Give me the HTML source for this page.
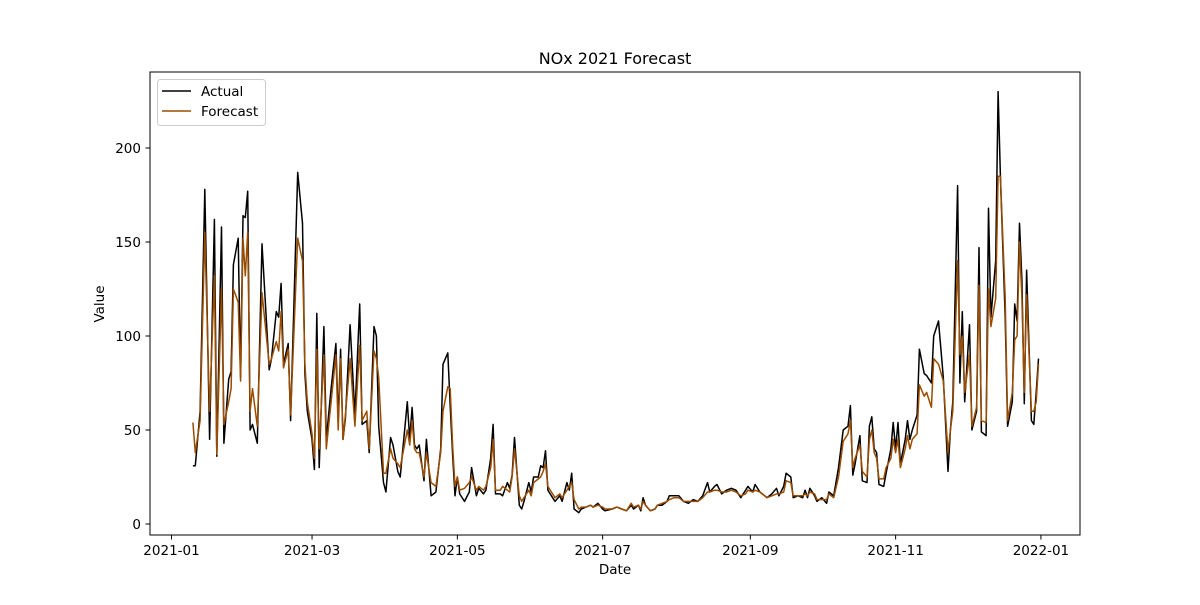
<!DOCTYPE html>
<html><head><meta charset="utf-8"><style>
body{margin:0;background:#fff;}
svg text{font-family:"DejaVu Sans","Liberation Sans",sans-serif;fill:#000;}
</style></head><body>
<svg id="chart" width="1200" height="600">
<rect width="1200" height="600" fill="#fff"/>
<text x="615" y="64" text-anchor="middle" font-size="16">NOx 2021 Forecast</text>
<g id="axes"></g>
<g id="series"></g>
<rect x="150" y="72" width="930" height="463" fill="none" stroke="#000" stroke-width="1"/>
<g>
<rect x="157.5" y="79.5" width="108" height="46" rx="3" fill="#fff" fill-opacity="0.8" stroke="#ccc"/>
<line x1="162" y1="91" x2="191" y2="91" stroke="#000" stroke-width="1.5"/>
<text x="201" y="96" font-size="13.5">Actual</text>
<line x1="162" y1="111" x2="191" y2="111" stroke="#9a4d00" stroke-width="1.5"/>
<text x="201" y="116" font-size="13.5">Forecast</text>
</g>
<text x="615" y="574" text-anchor="middle" font-size="13.5">Date</text>
<text transform="translate(104,304) rotate(-90)" text-anchor="middle" font-size="13.5">Value</text>
</svg>
<script>
const days=[9,10,12,14,16,18,19,21,22,24,25,26,28,29,30,31,32,33,34,36,38,41,42,44,45,46,47,49,50,53,55,56,57,59,60,61,62,64,65,67,69,70,71,72,73,75,77,79,80,82,83,85,86,87,89,90,92,93,95,96,99,100,101,102,103,104,106,107,109,111,113,114,116,117,118,119,120,121,123,125,126,128,129,131,132,134,135,136,138,139,141,142,143,144,146,147,148,150,151,152,154,155,156,157,158,160,161,163,164,166,167,168,169,171,172,174,176,177,179,181,182,185,187,189,191,193,194,196,197,198,199,201,203,204,206,208,209,211,213,215,217,219,221,223,225,226,228,229,231,233,235,237,239,241,242,244,245,247,250,252,254,255,257,258,260,261,263,265,266,267,268,270,271,273,275,276,278,280,282,284,285,286,287,289,290,292,293,294,295,296,297,299,300,302,303,304,305,306,308,309,310,311,313,314,316,317,319,320,322,324,326,327,328,330,331,332,333,335,336,338,339,340,342,343,344,346,347,348,350,351,353,354,355,356,357,358,359,361,362,363,364];
const actual=[31,31,60,178,45,162,36,158,43,77,81,138,152,78,164,163,177,50,53,43,149,82,88,113,110,128,85,96,55,187,160,80,60,45,29,112,30,105,45,72,96,55,93,45,56,106,58,117,53,55,38,105,100,52,22,17,46,42,28,25,65,45,62,42,40,42,23,45,15,17,40,85,91,63,37,15,25,16,12,17,30,15,19,16,18,35,53,16,16,15,22,19,26,46,10,8,12,22,17,25,25,31,30,39,18,14,12,15,12,22,18,27,8,6,8,9,10,9,11,8,7,8,9,8,7,10,8,10,7,14,10,7,8,10,10,12,15,15,15,12,11,13,12,15,22,17,20,21,16,18,19,18,14,18,20,17,21,17,14,16,19,15,20,27,25,14,15,14,18,14,19,15,12,14,11,17,15,30,50,52,63,26,32,47,23,22,52,57,40,38,21,20,27,40,54,40,54,32,45,55,45,50,58,93,80,79,75,100,108,78,28,50,65,180,75,113,65,106,50,60,147,49,47,168,110,140,230,185,110,52,65,117,108,160,130,64,135,55,53,70,88,91];
const forecast=[54,38,55,155,60,132,37,125,53,65,72,125,118,76,152,132,155,60,72,52,123,85,88,97,92,113,83,93,58,152,140,85,65,48,35,93,40,90,40,65,90,50,88,45,58,88,52,95,55,60,40,92,88,78,27,27,40,35,32,30,50,42,55,40,38,38,25,38,22,20,38,60,73,72,42,20,25,18,19,22,25,18,20,18,20,30,45,18,18,20,18,17,25,40,15,12,14,18,15,22,24,25,28,32,20,16,14,16,14,18,20,22,13,8,9,9,10,9,10,9,8,8,9,8,7,11,9,10,8,12,10,7,8,10,11,12,13,14,14,12,12,12,12,14,17,17,18,18,17,17,18,17,15,16,18,17,18,17,14,15,16,16,17,23,22,15,15,15,16,15,17,16,13,13,13,16,14,25,44,48,55,30,35,42,28,25,45,50,38,35,24,24,30,35,45,38,45,30,40,47,40,45,48,74,68,70,62,88,85,76,38,50,60,140,90,100,70,90,52,62,127,55,54,125,105,120,185,185,120,55,70,98,100,150,120,70,122,60,60,65,85,90];
const yTicks=[0,50,100,150,200];
const xTickDays=[0,59,120,181,243,304,365];
const xTickLabels=["2021-01","2021-03","2021-05","2021-07","2021-09","2021-11","2022-01"];

const X0=171.5, XS=2.382, Y0=524, YS=1.88;
const xs=d=>X0+d*XS, ys=v=>Y0-v*YS;
const NS="http://www.w3.org/2000/svg";
const axes=document.getElementById('axes'), ser=document.getElementById('series');
function mk(tag,attrs,parent){const e=document.createElementNS(NS,tag);for(const k in attrs)e.setAttribute(k,attrs[k]);parent.appendChild(e);return e;}
yTicks.forEach(v=>{
  const y=ys(v);
  const t=mk('line',{x1:145.5,x2:150,y1:y,y2:y,stroke:'#000'},axes);
  
  
  const l=mk('text',{x:141,y:y+5,'text-anchor':'end','font-size':'13.5'},axes);
  l.textContent=v;
  
  
});
xTickDays.forEach((d,i)=>{
  const x=xs(d);
  const t=mk('line',{x1:x,x2:x,y1:535,y2:539.5,stroke:'#000'},axes);
  
  
  const l=mk('text',{x:x,y:555,'text-anchor':'middle','font-size':'13.5'},axes);
  l.textContent=xTickLabels[i];
  
  
});
function line(vals,color,name){
  const p=vals.map((v,i)=>(i?'L':'M')+xs(days[i]).toFixed(1)+','+ys(v).toFixed(1)).join('');
  const e=mk('path',{d:p,fill:'none',stroke:color,'stroke-width':1.5,'stroke-linejoin':'round'},ser);
  
  
}
line(actual,'#000','actual-line');
line(forecast,'#9a4d00','forecast-line');
</script>
</body></html>
